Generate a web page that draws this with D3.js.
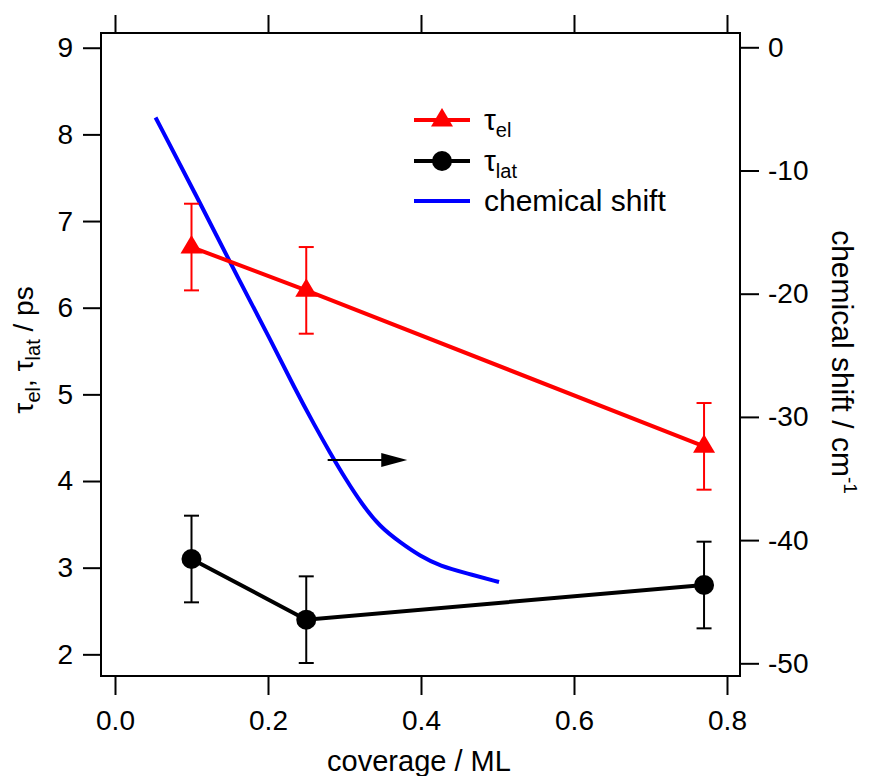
<!DOCTYPE html>
<html>
<head>
<meta charset="utf-8">
<script src="https://cdn.jsdelivr.net/npm/d3@7"></script>
<style>
  html, body { margin: 0; padding: 0; background: #fff; }
  svg { display: block; }
  text { font-family: "Liberation Sans", Arial, sans-serif; fill: #000; }
</style>
</head>
<body>
<svg id="chart" width="870" height="776"></svg>
<script>
// Relaxation times (left axis) vs. coverage
const coverage = [0.10, 0.25, 0.77];
const tauEl = [6.7, 6.2, 4.4];
const tauElErr = [0.5, 0.5, 0.5];
const tauLat = [3.1, 2.4, 2.8];
const tauLatErr = [0.5, 0.5, 0.5];

// Chemical shift curve (right axis)
const shiftCoverage = [0.053, 0.111, 0.163, 0.203, 0.235, 0.261, 0.281, 0.301, 0.323, 0.346, 0.373, 0.399, 0.425, 0.460, 0.502];
const shiftValues = [-5.7, -12.6, -19.0, -23.7, -27.7, -30.7, -32.9, -35.0, -37.1, -38.9, -40.2, -41.3, -42.1, -42.7, -43.4];

// Arrow pointing the curve to the right axis: [coverage, shift]
const arrowFrom = [0.278, -33.5];
const arrowTo = [0.382, -33.5];

// Tick values
const xTicks = [0.0, 0.2, 0.4, 0.6, 0.8];
const leftTicks = [2, 3, 4, 5, 6, 7, 8, 9];
const rightTicks = [0, -10, -20, -30, -40, -50];

const svg = d3.select("#chart");
const L = 101, R = 740, T = 33, B = 676;

const x = d3.scaleLinear().domain([-0.0183, 0.817]).range([L, R]);
const yL = d3.scaleLinear().domain([1.75, 9.17]).range([B, T]);
const yR = d3.scaleLinear().domain([-51.03, 1.16]).range([B, T]);

const FS = 28;
const intFmt = d => String(d);   // plain hyphen-minus for negatives

// Frame
svg.append("rect").attr("x", L).attr("y", T).attr("width", R - L).attr("height", B - T)
  .attr("fill", "none").attr("stroke", "#000").attr("stroke-width", 2);

function styleAxis(g) {
  g.select(".domain").remove();
  g.selectAll(".tick line").attr("stroke", "#000").attr("stroke-width", 2);
  g.selectAll(".tick text").style("font-size", FS + "px").attr("fill", "#000")
    .style("font-family", '"Liberation Sans", Arial, sans-serif');
}

svg.append("g").attr("transform", `translate(0,${B})`)
  .call(d3.axisBottom(x).tickValues(xTicks).tickFormat(d => d.toFixed(1)).tickSize(19).tickPadding(15))
  .call(styleAxis);
svg.append("g").attr("transform", `translate(0,${T})`)
  .call(d3.axisTop(x).tickValues(xTicks).tickFormat("").tickSize(18))
  .call(styleAxis);
svg.append("g").attr("transform", `translate(${L},0)`)
  .call(d3.axisLeft(yL).tickValues(leftTicks).tickFormat(intFmt).tickSize(18).tickPadding(10))
  .call(styleAxis);
svg.append("g").attr("transform", `translate(${R},0)`)
  .call(d3.axisRight(yR).tickValues(rightTicks).tickFormat(intFmt).tickSize(19).tickPadding(9))
  .call(styleAxis);

// Chemical shift curve
const shiftData = shiftCoverage.map((c, i) => [c, shiftValues[i]]);
svg.append("path").datum(shiftData)
  .attr("fill", "none").attr("stroke", "#0000ff").attr("stroke-width", 4)
  .attr("d", d3.line().x(d => x(d[0])).y(d => yR(d[1])).curve(d3.curveBasis));

// Arrow
const ax0 = x(arrowFrom[0]), ay = yR(arrowFrom[1]), ax1 = x(arrowTo[0]);
svg.append("line").attr("x1", ax0).attr("y1", ay).attr("x2", ax1 - 20).attr("y2", ay)
  .attr("stroke", "#000").attr("stroke-width", 2);
svg.append("path").attr("d", `M${ax1},${ay} L${ax1 - 26},${ay - 7} L${ax1 - 26},${ay + 7} Z`).attr("fill", "#000");

// Series drawing helper
function drawSeries(values, errs, color, marker) {
  const pts = coverage.map((c, i) => ({ c, v: values[i], e: errs[i] }));
  const eg = svg.append("g").attr("stroke", color).attr("stroke-width", 2);
  pts.forEach(p => {
    const cx = x(p.c), y1 = yL(p.v + p.e), y2 = yL(p.v - p.e);
    eg.append("line").attr("x1", cx).attr("x2", cx).attr("y1", y1).attr("y2", y2);
    eg.append("line").attr("x1", cx - 7.5).attr("x2", cx + 7.5).attr("y1", y1).attr("y2", y1);
    eg.append("line").attr("x1", cx - 7.5).attr("x2", cx + 7.5).attr("y1", y2).attr("y2", y2);
  });
  svg.append("path").datum(pts).attr("fill", "none").attr("stroke", color).attr("stroke-width", 4)
    .attr("d", d3.line().x(d => x(d.c)).y(d => yL(d.v)));
  pts.forEach(p => marker(x(p.c), yL(p.v)));
}

function triangle(cx, cy) {
  svg.append("path").attr("d", `M${cx},${cy - 12} L${cx + 11},${cy + 6.5} L${cx - 11},${cy + 6.5} Z`).attr("fill", "#ff0000");
}
function circle(cx, cy) {
  svg.append("circle").attr("cx", cx).attr("cy", cy).attr("r", 10).attr("fill", "#000");
}

drawSeries(tauEl, tauElErr, "#ff0000", triangle);
drawSeries(tauLat, tauLatErr, "#000", circle);

// Legend
const lg = { x0: 414, x1: 470, tx: 484 };
const rows = [
  { y: 120, color: "#ff0000", marker: triangle, main: "τ", sub: "el" },
  { y: 161, color: "#000", marker: circle, main: "τ", sub: "lat" },
  { y: 201, color: "#0000ff", marker: null, main: "chemical shift", sub: null }
];
rows.forEach(r => {
  svg.append("line").attr("x1", lg.x0).attr("x2", lg.x1).attr("y1", r.y).attr("y2", r.y)
    .attr("stroke", r.color).attr("stroke-width", 4);
  if (r.marker) r.marker((lg.x0 + lg.x1) / 2, r.y);
  const t = svg.append("text").attr("x", lg.tx).attr("y", r.y + 10).style("font-size", "30px");
  t.append("tspan").text(r.main);
  if (r.sub) t.append("tspan").attr("dy", 7).style("font-size", "20px").text(r.sub);
});

// Axis titles
svg.append("text").attr("x", 419).attr("y", 771).attr("text-anchor", "middle")
  .style("font-size", "29px").text("coverage / ML");

const lt = svg.append("text").attr("transform", "translate(33,350) rotate(-90)")
  .attr("text-anchor", "middle").style("font-size", "28px");
lt.append("tspan").text("τ");
lt.append("tspan").attr("dy", 7).style("font-size", "20px").text("el");
lt.append("tspan").attr("dy", -7).text(", τ");
lt.append("tspan").attr("dy", 7).style("font-size", "20px").text("lat");
lt.append("tspan").attr("dy", -7).text(" / ps");

const rt = svg.append("text").attr("transform", "translate(832,362) rotate(90)")
  .attr("text-anchor", "middle").style("font-size", "30px");
rt.append("tspan").text("chemical shift / cm");
rt.append("tspan").attr("dy", -12).style("font-size", "19px").text("-1");
</script>
</body>
</html>
